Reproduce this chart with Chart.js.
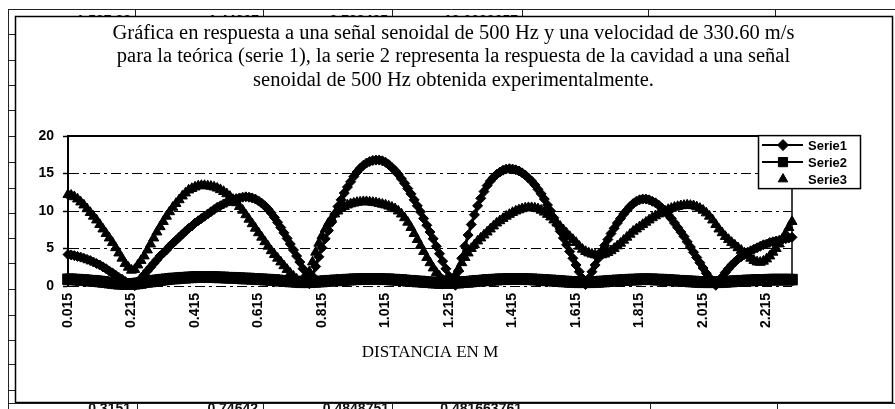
<!DOCTYPE html>
<html lang="es">
<head>
<meta charset="utf-8">
<title>Respuesta de la cavidad a 500 Hz</title>
<script src="https://cdn.jsdelivr.net/npm/chart.js@4.4.1/dist/chart.umd.min.js"></script>
<style>
  html, body { margin: 0; padding: 0; background: #fff; }
  canvas { display: block; }
</style>
</head>
<body>
<canvas id="grafica" width="895" height="409"></canvas>
<script>
// Títulos
const titulo = [
  'Gráfica en respuesta a una señal senoidal de 500 Hz y una velocidad de 330.60 m/s',
  'para la teórica (serie 1), la serie 2 representa la respuesta de la cavidad a una señal',
  'senoidal de 500 Hz obtenida experimentalmente.'
];
const tituloEjeX = 'DISTANCIA EN M';
const nombresSeries = ['Serie1', 'Serie2', 'Serie3'];

// Distancias (m): primera posición y paso de medida
const distanciaInicial = 0.015;
const pasoDistancia = 0.01;

// Serie 1: respuesta teórica
const serie1 = [
  4.2, 4.15, 4.05, 3.95, 3.85, 3.7, 3.55, 3.4, 3.2, 3.0,
  2.8, 2.55, 2.3, 2.0, 1.75, 1.45, 1.15, 0.9, 0.6, 0.35,
  0.15, 0.05, 0.5, 1.0, 1.5, 2.0, 2.5, 3.0, 3.5, 4.0,
  4.4, 4.8, 5.3, 5.7, 6.1, 6.5, 6.9, 7.3, 7.7, 8.0,
  8.4, 8.7, 9.0, 9.3, 9.6, 9.9, 10.2, 10.5, 10.7, 10.95,
  11.15, 11.35, 11.5, 11.65, 11.75, 11.85, 11.9, 11.85, 11.75, 11.6,
  11.35, 11.05, 10.7, 10.25, 9.75, 9.15, 8.5, 7.8, 7.1, 6.35,
  5.6, 4.8, 4.0, 3.2, 2.3, 1.4, 0.3, 1.3, 2.6, 3.9,
  5.1, 6.3, 7.4, 8.5, 9.6, 10.6, 11.5, 12.4, 13.2, 13.9,
  14.6, 15.2, 15.7, 16.1, 16.4, 16.6, 16.75, 16.8, 16.8, 16.7,
  16.5, 16.2, 15.8, 15.4, 14.9, 14.3, 13.7, 13.0, 12.3, 11.5,
  10.7, 9.9, 9.0, 8.1, 7.2, 6.3, 5.3, 4.3, 3.3, 2.3,
  1.3, 0.4, 0.1, 2.0, 3.7, 5.3, 6.8, 8.2, 9.5, 10.7,
  11.7, 12.6, 13.4, 14.0, 14.5, 14.9, 15.2, 15.45, 15.6, 15.65,
  15.6, 15.5, 15.35, 15.1, 14.8, 14.4, 14.0, 13.5, 12.9, 12.3,
  11.6, 10.8, 10.0, 9.1, 8.2, 7.3, 6.4, 5.5, 4.6, 3.7,
  2.8, 1.9, 1.0, 0.2, 1.0, 1.9, 2.8, 3.7, 4.6, 5.4,
  6.2, 7.0, 7.7, 8.4, 9.0, 9.6, 10.1, 10.6, 11.0, 11.3,
  11.5, 11.6, 11.6, 11.5, 11.3, 11.1, 10.8, 10.4, 10.0, 9.5,
  9.0, 8.4, 7.8, 7.2, 6.6, 5.9, 5.2, 4.5, 3.8, 3.1,
  2.4, 1.7, 1.1, 0.5, 0.1, 0.6, 1.2, 1.8, 2.3, 2.8,
  3.2, 3.6, 3.9, 4.2, 4.5, 4.7, 4.9, 5.1, 5.3, 5.5,
  5.6, 5.8, 5.9, 6.0, 6.1, 6.2, 6.3, 6.4, 6.5
];

// Serie 2
const serie2 = [
  0.9, 0.9, 0.85, 0.85, 0.8, 0.8, 0.75, 0.7, 0.7, 0.65,
  0.6, 0.55, 0.5, 0.45, 0.4, 0.35, 0.3, 0.3, 0.25, 0.25,
  0.25, 0.3, 0.35, 0.4, 0.5, 0.55, 0.6, 0.7, 0.75, 0.8,
  0.85, 0.9, 0.95, 1.0, 1.0, 1.05, 1.1, 1.1, 1.15, 1.15,
  1.2, 1.2, 1.2, 1.2, 1.2, 1.2, 1.2, 1.15, 1.15, 1.15,
  1.1, 1.1, 1.1, 1.05, 1.05, 1.0, 1.0, 1.0, 0.95, 0.95,
  0.9, 0.9, 0.85, 0.85, 0.8, 0.8, 0.75, 0.7, 0.7, 0.65,
  0.6, 0.6, 0.55, 0.5, 0.5, 0.5, 0.5, 0.55, 0.55, 0.6,
  0.6, 0.65, 0.7, 0.7, 0.75, 0.75, 0.8, 0.8, 0.85, 0.85,
  0.9, 0.9, 0.9, 0.95, 0.95, 0.95, 0.95, 0.95, 0.95, 0.9,
  0.9, 0.9, 0.85, 0.85, 0.8, 0.8, 0.75, 0.7, 0.7, 0.65,
  0.6, 0.6, 0.55, 0.5, 0.5, 0.45, 0.45, 0.4, 0.4, 0.4,
  0.4, 0.4, 0.45, 0.45, 0.5, 0.55, 0.55, 0.6, 0.65, 0.7,
  0.7, 0.75, 0.8, 0.8, 0.85, 0.85, 0.9, 0.9, 0.9, 0.95,
  0.95, 0.95, 0.95, 0.95, 0.9, 0.9, 0.9, 0.85, 0.85, 0.8,
  0.8, 0.75, 0.75, 0.7, 0.7, 0.65, 0.6, 0.6, 0.55, 0.55,
  0.5, 0.5, 0.5, 0.5, 0.5, 0.5, 0.55, 0.55, 0.6, 0.6,
  0.65, 0.7, 0.7, 0.75, 0.75, 0.8, 0.8, 0.85, 0.85, 0.85,
  0.9, 0.9, 0.9, 0.9, 0.9, 0.85, 0.85, 0.85, 0.8, 0.8,
  0.75, 0.75, 0.7, 0.7, 0.65, 0.65, 0.6, 0.6, 0.55, 0.55,
  0.5, 0.5, 0.5, 0.5, 0.5, 0.5, 0.55, 0.55, 0.6, 0.6,
  0.65, 0.65, 0.7, 0.7, 0.75, 0.75, 0.75, 0.8, 0.8, 0.8,
  0.8, 0.85, 0.85, 0.85, 0.85, 0.85, 0.85, 0.85, 0.85
];

// Serie 3
const serie3 = [
  12.2, 12.1, 11.9, 11.6, 11.2, 10.8, 10.3, 9.8, 9.3, 8.8,
  8.2, 7.6, 7.0, 6.4, 5.8, 5.1, 4.4, 3.7, 3.0, 2.5,
  2.1, 2.2, 2.8, 3.4, 4.0, 4.8, 5.6, 6.4, 7.2, 7.9,
  8.6, 9.3, 9.9, 10.5, 11.0, 11.5, 12.0, 12.4, 12.8, 13.0,
  13.2, 13.35, 13.4, 13.4, 13.35, 13.3, 13.2, 13.05, 12.85, 12.6,
  12.3, 11.95, 11.55, 11.1, 10.6, 10.1, 9.5, 8.9, 8.3, 7.7,
  7.1, 6.5, 5.9, 5.3, 4.7, 4.2, 3.7, 3.2, 2.7, 2.2,
  1.7, 1.3, 0.9, 0.6, 0.4, 0.8, 1.9, 3.2, 4.5, 5.7,
  6.7, 7.6, 8.4, 9.0, 9.6, 10.0, 10.35, 10.6, 10.8, 10.95,
  11.05, 11.15, 11.2, 11.25, 11.25, 11.2, 11.15, 11.1, 11.0, 10.9,
  10.8, 10.65, 10.5, 10.3, 10.0, 9.6, 9.1, 8.5, 7.8, 7.0,
  6.2, 5.4, 4.6, 3.8, 3.1, 2.4, 1.8, 1.3, 0.8, 0.5,
  0.3, 0.8, 1.5, 2.3, 3.1, 3.8, 4.4, 5.0, 5.5, 6.0,
  6.4, 6.8, 7.2, 7.6, 8.0, 8.4, 8.7, 9.0, 9.3, 9.55,
  9.8, 10.0, 10.15, 10.3, 10.4, 10.45, 10.45, 10.4, 10.3, 10.1,
  9.85, 9.55, 9.2, 8.8, 8.4, 7.95, 7.5, 7.05, 6.6, 6.2,
  5.8, 5.3, 4.9, 4.6, 4.4, 4.25, 4.15, 4.1, 4.15, 4.25,
  4.45, 4.7, 5.0, 5.35, 5.7, 6.1, 6.5, 6.9, 7.3, 7.6,
  7.9, 8.2, 8.5, 8.8, 9.1, 9.35, 9.6, 9.8, 10.0, 10.2,
  10.35, 10.5, 10.6, 10.7, 10.75, 10.8, 10.75, 10.7, 10.55, 10.35,
  10.1, 9.75, 9.3, 8.8, 8.2, 7.6, 7.1, 6.6, 6.2, 5.8,
  5.45, 5.1, 4.75, 4.4, 4.05, 3.7, 3.4, 3.2, 3.15, 3.3,
  3.6, 4.0, 4.5, 5.0, 5.6, 6.3, 7.0, 7.8, 8.6
];

// Categorías del eje X y etiquetas que se muestran
const distancias = serie1.map((_, i) => (distanciaInicial + pasoDistancia * i).toFixed(3));
const etiquetasX = ['0.015', '0.215', '0.415', '0.615', '0.815', '1.015',
                    '1.215', '1.415', '1.615', '1.815', '2.015', '2.215'];
const pasoY = 5;
const minY = 0;
const maxY = 20;

// Celdas de la hoja de cálculo que quedan detrás del gráfico
const celdasArriba = ['1.537.83', '1.44307', '0.728405', '13.0000057'];
const celdasAbajo = ['0.3151', '0.74642', '0.4848751', '0.481663761'];

const SANS = "'Liberation Sans', Arial, sans-serif";
const SERIF = "'Liberation Serif', 'Times New Roman', serif";

function marcador(c, estilo, x, y, r) {
  c.beginPath();
  if (estilo === 'rectRot') {
    c.moveTo(x, y - r); c.lineTo(x + r, y); c.lineTo(x, y + r); c.lineTo(x - r, y);
  } else if (estilo === 'rect') {
    const s = r * Math.SQRT1_2;
    c.rect(x - s, y - s, 2 * s, 2 * s);
  } else {
    c.moveTo(x, y - r); c.lineTo(x + r * 0.866, y + r / 2); c.lineTo(x - r * 0.866, y + r / 2);
  }
  c.closePath();
  c.fill();
  c.stroke();
}

// Fondo: rejilla de la hoja y marco del gráfico
const fondoHoja = {
  id: 'fondoHoja',
  beforeDraw(chart) {
    const c = chart.ctx;
    const W = chart.width, H = chart.height;
    c.save();
    c.fillStyle = '#fff';
    c.fillRect(0, 0, W, H);
    c.strokeStyle = '#222';
    c.lineWidth = 1;
    const seg = (x1, y1, x2, y2) => { c.beginPath(); c.moveTo(x1, y1); c.lineTo(x2, y2); c.stroke(); };
    seg(8, 9.5, W, 9.5);
    seg(8.5, 9, 8.5, H);
    [34, 60, 85, 110, 136, 162, 188, 213, 238, 263, 289, 315, 340, 364, 390]
      .forEach(y => seg(8, y + 0.5, 15, y + 0.5));
    [135, 263, 392, 522, 648, 775].forEach(x => seg(x + 0.5, 9, x + 0.5, 16));
    [137, 263, 392, 650, 777].forEach(x => seg(x + 0.5, 402, x + 0.5, H));
    seg(8, 403.5, W, 403.5);

    c.fillStyle = '#111';
    c.font = 'bold 14px ' + SANS;
    c.textAlign = 'right';
    c.textBaseline = 'alphabetic';
    const bordesArriba = [131, 259, 388, 518];
    c.save();
    c.beginPath(); c.rect(9, 10, W - 9, 6); c.clip();
    celdasArriba.forEach((t, i) => c.fillText(t, bordesArriba[i], 25));
    c.restore();
    const bordesAbajo = [131, 258, 389, 522];
    c.save();
    c.beginPath(); c.rect(9, 404, W - 9, H - 404); c.clip();
    celdasAbajo.forEach((t, i) => c.fillText(t, bordesAbajo[i], 413));
    c.restore();

    c.strokeStyle = '#000';
    c.lineWidth = 1.5;
    c.strokeRect(15.5, 16.5, 877, 386);
    c.restore();
  }
};

// Borde del área de trazado y leyenda flotante
const marcoYLeyenda = {
  id: 'marcoYLeyenda',
  beforeDatasetsDraw(chart) {
    const { left, top, right, bottom } = chart.chartArea;
    const c = chart.ctx;
    c.save();
    c.strokeStyle = '#000';
    c.lineWidth = 2;
    c.beginPath(); c.moveTo(left, top); c.lineTo(right, top); c.stroke();
    c.lineWidth = 1.5;
    c.beginPath(); c.moveTo(right, top); c.lineTo(right, bottom); c.stroke();
    c.restore();
  },
  afterDraw(chart) {
    const c = chart.ctx;
    const { top, right } = chart.chartArea;
    const x0 = right - 34, y0 = top - 1, w = 102, h = 53;
    c.save();
    c.fillStyle = '#fff';
    c.fillRect(x0, y0, w, h);
    c.strokeStyle = '#000';
    c.lineWidth = 1.5;
    c.strokeRect(x0 + 0.5, y0 + 0.5, w, h);
    c.font = 'bold 13px ' + SANS;
    c.textAlign = 'left';
    c.textBaseline = 'middle';
    chart.data.datasets.forEach((ds, i) => {
      const y = y0 + 10 + i * 17;
      c.fillStyle = '#000';
      c.strokeStyle = '#000';
      if (ds.showLine !== false) {
        c.lineWidth = 2;
        c.beginPath(); c.moveTo(x0 + 4, y); c.lineTo(x0 + 45, y); c.stroke();
      }
      c.lineWidth = 1;
      marcador(c, ds.pointStyle, x0 + 25, y, ds.pointStyle === 'rect' ? 6.5 : 5.5);
      c.fillText(ds.label, x0 + 50, y + 1);
    });
    c.restore();
  }
};

new Chart(document.getElementById('grafica'), {
  type: 'line',
  data: {
    labels: distancias,
    datasets: [
      {
        label: nombresSeries[0], data: serie1,
        borderColor: '#000', backgroundColor: '#000', borderWidth: 3,
        pointStyle: 'rectRot', pointRadius: 5, pointBorderWidth: 1,
        pointBackgroundColor: '#000', pointBorderColor: '#000',
        tension: 0, clip: false
      },
      {
        label: nombresSeries[1], data: serie2,
        borderColor: '#000', backgroundColor: '#000', borderWidth: 2,
        pointStyle: 'rect', pointRadius: 7.5, pointBorderWidth: 1,
        pointBackgroundColor: '#000', pointBorderColor: '#000',
        tension: 0, clip: false
      },
      {
        label: nombresSeries[2], data: serie3,
        showLine: false,
        borderColor: '#000', backgroundColor: '#000',
        pointStyle: 'triangle', pointRadius: 5.8, pointBorderWidth: 1,
        pointBackgroundColor: '#000', pointBorderColor: '#000',
        clip: false
      }
    ]
  },
  options: {
    responsive: false,
    animation: false,
    devicePixelRatio: 1,
    events: [],
    layout: { padding: { left: 15, right: 3, top: 0, bottom: 7 } },
    plugins: {
      legend: { display: false },
      tooltip: { enabled: false },
      title: {
        display: true,
        text: titulo,
        color: '#000',
        font: { family: SERIF, size: 20.5, weight: 'normal', lineHeight: 1.14 },
        padding: { top: 22, bottom: 44 }
      }
    },
    scales: {
      x: {
        type: 'category',
        offset: false,
        grid: { display: false, drawTicks: false },
        border: { display: false },
        ticks: {
          autoSkip: false,
          minRotation: 90,
          maxRotation: 90,
          padding: 7,
          color: '#000',
          font: { family: SANS, size: 14, weight: 'bold' },
          callback(value) {
            const etiqueta = this.getLabelForValue(value);
            return etiquetasX.includes(etiqueta) ? etiqueta : null;
          }
        },
        title: {
          display: true,
          text: tituloEjeX,
          color: '#000',
          font: { family: SERIF, size: 17, weight: 'normal', lineHeight: 1.2 },
          padding: { top: 0, bottom: 39 }
        },
        afterFit(scale) { scale.height = 116; }
      },
      y: {
        min: minY,
        max: maxY,
        ticks: {
          stepSize: pasoY,
          padding: 9,
          color: '#000',
          font: { family: SANS, size: 14, weight: 'bold' }
        },
        grid: { color: '#000', lineWidth: 1, tickLength: 5, tickColor: '#000', tickWidth: 1.5 },
        border: { display: true, color: '#000', width: 2, dash: [10, 4, 3, 4] },
        afterFit(scale) { scale.width = 53; }
      },
      derecha: {
        position: 'right',
        min: minY,
        max: maxY,
        grid: { display: false, drawTicks: false },
        border: { display: false },
        ticks: { display: false },
        afterFit(scale) { scale.width = 100; }
      }
    }
  },
  plugins: [fondoHoja, marcoYLeyenda]
});
</script>
</body>
</html>
